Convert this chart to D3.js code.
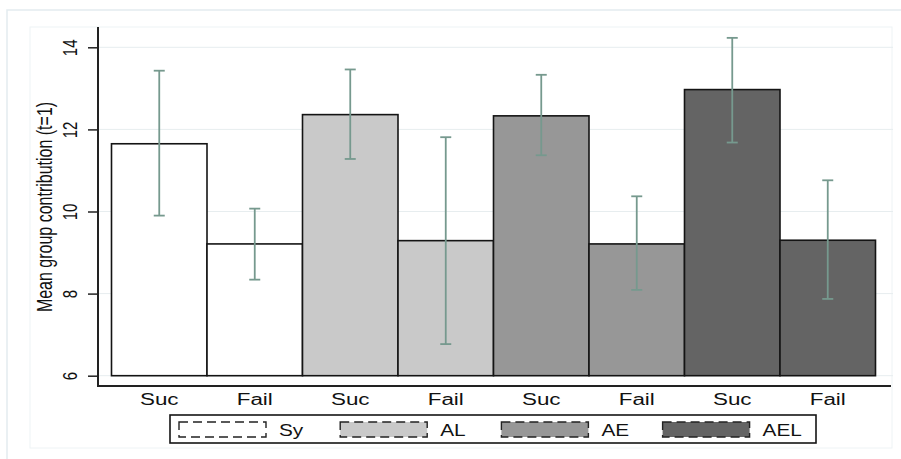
<!DOCTYPE html>
<html>
<head>
<meta charset="utf-8">
<script src="https://cdn.jsdelivr.net/npm/d3@7"></script>
<style>
  body { margin: 0; background: #fff; }
  text { font-family: "Liberation Sans", Arial, sans-serif; fill: #111; }
</style>
</head>
<body>
<div class="display"></div>
<script>
var groups = ["Sy", "AL", "AE", "AEL"];
var outcomes = ["Suc", "Fail"];
var groupColors = ["#ffffff", "#c9c9c9", "#979797", "#646464"];
var means = [11.65, 9.21, 12.36, 9.29, 12.33, 9.21, 12.97, 9.30];
var lower = [9.90, 8.34, 11.28, 6.77, 11.37, 8.09, 11.68, 7.87];
var upper = [13.43, 10.07, 13.46, 11.81, 13.33, 10.37, 14.23, 10.76];
var yTicks = [6, 8, 10, 12, 14];
var yTitle = "Mean group contribution (t=1)";

var width = 901, height = 459;
var stretch = 1.4; // the original picture is wide, text looks stretched

var bars = means.map(function(m, i) {
  return { i: i, group: Math.floor(i / 2), label: outcomes[i % 2], mean: m, lo: lower[i], hi: upper[i] };
});

var svg = d3.select(".display")
  .append("svg")
  .attr("width", width)
  .attr("height", height);

// faint outer frames
svg.append("path")
  .attr("d", "M7,459V10H901")
  .attr("fill", "none").attr("stroke", "#e3ecf0").attr("stroke-width", 1.5);
svg.append("rect")
  .attr("x", 30).attr("y", 27).attr("width", 862).attr("height", 421)
  .attr("fill", "none").attr("stroke", "#eef3f5").attr("stroke-width", 1);

var x = d3.scaleBand().domain(d3.range(means.length)).range([111.5, 875.5]).padding(0);
var y = d3.scaleLinear().domain([6, 14]).range([375.7, 47.3]);

// gridlines
svg.selectAll("line.grid")
  .data(yTicks)
  .enter().append("line")
  .attr("class", "grid")
  .attr("x1", 98).attr("x2", 893)
  .attr("y1", function(d) { return y(d); })
  .attr("y2", function(d) { return y(d); })
  .attr("stroke", "#e7edef").attr("stroke-width", 1);

// bars
svg.selectAll("rect.bar")
  .data(bars)
  .enter().append("rect")
  .attr("class", "bar")
  .attr("x", function(d) { return x(d.i); })
  .attr("y", function(d) { return y(d.mean); })
  .attr("width", x.bandwidth())
  .attr("height", function(d) { return y(6) - y(d.mean); })
  .attr("fill", function(d) { return groupColors[d.group]; })
  .attr("stroke", "#141414")
  .attr("stroke-width", 1.6);

// error bars
var err = svg.selectAll("g.err")
  .data(bars)
  .enter().append("g")
  .attr("class", "err")
  .attr("stroke", "#76998e")
  .attr("stroke-width", 1.8);

err.append("line")
  .attr("x1", function(d) { return x(d.i) + x.bandwidth() / 2; })
  .attr("x2", function(d) { return x(d.i) + x.bandwidth() / 2; })
  .attr("y1", function(d) { return y(d.lo); })
  .attr("y2", function(d) { return y(d.hi); });

err.selectAll("line.cap")
  .data(function(d) { return [d.lo, d.hi].map(function(v) { return { c: x(d.i) + x.bandwidth() / 2, v: v }; }); })
  .enter().append("line")
  .attr("class", "cap")
  .attr("x1", function(d) { return d.c - 5.5; })
  .attr("x2", function(d) { return d.c + 5.5; })
  .attr("y1", function(d) { return y(d.v); })
  .attr("y2", function(d) { return y(d.v); });

// y axis
var yAxis = svg.append("g")
  .attr("transform", "translate(98,0)")
  .call(d3.axisLeft(y).tickValues(yTicks).tickSize(10).tickSizeOuter(0).tickFormat(d3.format("d")));
yAxis.select(".domain").remove();
yAxis.selectAll(".tick line").attr("stroke", "#222").attr("stroke-width", 1.5);
yAxis.selectAll(".tick text")
  .attr("x", null).attr("dy", null)
  .attr("text-anchor", "middle")
  .style("font-size", "15px")
  .attr("transform", "translate(-21,0) rotate(-90) scale(1," + stretch + ")");

svg.append("path")
  .attr("d", "M98,27V386H891")
  .attr("fill", "none").attr("stroke", "#222").attr("stroke-width", 2);

// y title
svg.append("text")
  .attr("text-anchor", "middle")
  .style("font-size", "16px")
  .attr("transform", "translate(51.5,207) rotate(-90) scale(1," + stretch + ")")
  .text(yTitle);

// category labels
svg.selectAll("text.cat")
  .data(bars)
  .enter().append("text")
  .attr("class", "cat")
  .attr("text-anchor", "middle")
  .style("font-size", "16px")
  .attr("transform", function(d) { return "translate(" + (x(d.i) + x.bandwidth() / 2) + ",405) scale(" + stretch + ",1)"; })
  .text(function(d) { return d.label; });

// legend
var legend = svg.append("g");
legend.append("rect")
  .attr("x", 170).attr("y", 415).attr("width", 646).attr("height", 28)
  .attr("fill", "#fff").attr("stroke", "#141414").attr("stroke-width", 1.6);

var item = legend.selectAll("g.item")
  .data(groups)
  .enter().append("g")
  .attr("class", "item")
  .attr("transform", function(d, i) { return "translate(" + (179 + i * 161.2) + ",0)"; });

item.append("rect")
  .attr("x", 0).attr("y", 422).attr("width", 87).attr("height", 15)
  .attr("fill", function(d, i) { return groupColors[i]; })
  .attr("stroke", "#222").attr("stroke-width", 1.4)
  .attr("stroke-dasharray", "9,5");

item.append("text")
  .style("font-size", "16px")
  .attr("transform", "translate(100,436) scale(1.3,1)")
  .text(function(d) { return d; });
</script>
</body>
</html>
